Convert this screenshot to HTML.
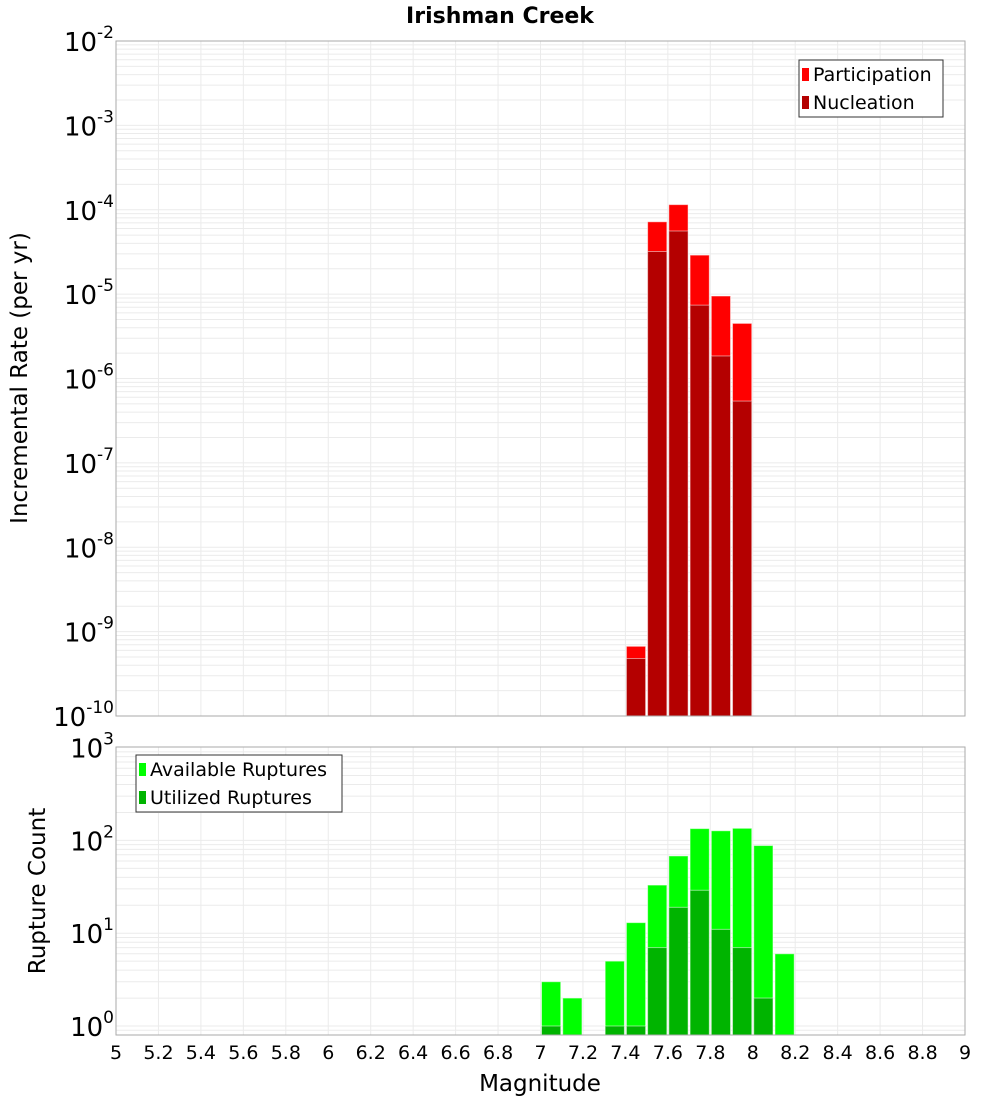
<!DOCTYPE html>
<html><head><meta charset="utf-8">
<style>
body{margin:0;background:#fff;}
svg{display:block;font-family:"Liberation Sans","DejaVu Sans",sans-serif;}
</style></head>
<body>
<svg id="c" width="1000" height="1100" xmlns="http://www.w3.org/2000/svg">
<text x="500" y="23" text-anchor="middle" font-size="22" font-weight="bold" font-family="DejaVu Sans, sans-serif">Irishman Creek</text>
<g id="topPanel"></g>
<g id="botPanel"></g>
<text x="540" y="1091" text-anchor="middle" font-size="23" font-family="DejaVu Sans, sans-serif">Magnitude</text>
<text transform="translate(27,378) rotate(-90)" text-anchor="middle" font-size="23" font-family="DejaVu Sans, sans-serif">Incremental Rate (per yr)</text>
<text transform="translate(45,891) rotate(-90)" text-anchor="middle" font-size="23" font-family="DejaVu Sans, sans-serif">Rupture Count</text>
</svg>
<script>
const magBins = [7.4,7.5,7.6,7.7,7.8,7.9];
const participation = [6.7e-10,7.2e-5,1.15e-4,2.9e-5,9.5e-6,4.5e-6];
const nucleation = [4.8e-10,3.2e-5,5.6e-5,7.4e-6,1.85e-6,5.4e-7];
const countBins = [7.0,7.1,7.3,7.4,7.5,7.6,7.7,7.8,7.9,8.0,8.1];
const available = [3,2,5,13,33,68,134,127,135,88,6];
const utilized = [1,0,1,1,7,19,29,11,7,2,0];
const xTicks = [5,5.2,5.4,5.6,5.8,6,6.2,6.4,6.6,6.8,7,7.2,7.4,7.6,7.8,8,8.2,8.4,8.6,8.8,9];
const topDecades = [-10,-9,-8,-7,-6,-5,-4,-3,-2];
const botDecades = [0,1,2,3];

const NS="http://www.w3.org/2000/svg";
const X0=116,X1=965;
function xs(m){return X0+(m-5)/4*(X1-X0);}
function mk(parent,tag,attrs){const e=document.createElementNS(NS,tag);for(const k in attrs)e.setAttribute(k,attrs[k]);parent.appendChild(e);return e;}
function topY(v){return 41+(-2-Math.log10(v))*(675/8);}
const BY1=1026,BDEC=92.8;
function botY(v){return BY1-Math.log10(v)*BDEC;}

function panel(g,yTop,yBot,yf,decs,lo,hi){
  mk(g,'rect',{x:X0,y:yTop,width:X1-X0,height:yBot-yTop,fill:'#fff'});
  for(let d=lo;d<hi;d++){for(let k=1;k<=9;k++){const y=yf(k*Math.pow(10,d));if(y<yTop||y>yBot)continue;
    const l=mk(g,'line',{x1:X0,x2:X1,y1:y,y2:y,stroke:'#ebebeb','stroke-width':1});
    
    }}
  xTicks.forEach(t=>{const x=xs(t);
    const l=mk(g,'line',{x1:x,x2:x,y1:yTop,y2:yBot,stroke:'#ebebeb','stroke-width':1});
    
    });
  decs.forEach(d=>{const y=yf(Math.pow(10,d));
    const t=mk(g,'text',{x:114,y:y+10,'text-anchor':'end','font-size':26,'font-family':'DejaVu Sans, sans-serif'});
    
    
    t.innerHTML='10<tspan dy="-13" font-size="17">'+d+'</tspan>';});
}
function bars(g,bins,vals,yf,yBot,fill,name){
  bins.forEach((b,i)=>{if(!(vals[i]>0))return;const y=yf(vals[i]);
    const r=mk(g,'rect',{x:xs(b)+1,y:y,width:xs(b+0.1)-xs(b)-2,height:yBot-y,fill:fill,stroke:'#ffffff','stroke-opacity':0.5,'stroke-width':1});
    
    });
}
function frame(g,yTop,yBot){mk(g,'rect',{x:X0,y:yTop,width:X1-X0,height:yBot-yTop,fill:'none',stroke:'#aaaaaa','stroke-width':1});}
function legend(g,x,y,w,items){
  const b=mk(g,'rect',{x:x,y:y,width:w,height:57,fill:'#fff',stroke:'#333','stroke-width':1});
  
  
  items.forEach((it,i)=>{const yy=y+14+i*28;
    mk(g,'rect',{x:x+3,y:yy-6,width:7,height:13,fill:it[1]});
    const t=mk(g,'text',{x:x+14,y:yy+7,'font-size':19,'font-family':'DejaVu Sans, sans-serif'});
    t.textContent=it[0];
    
    });
}
const topG=document.getElementById('topPanel'),botG=document.getElementById('botPanel');
panel(topG,41,716,topY,topDecades,-10,-2);
bars(topG,magBins,participation,topY,716,'#ff0000','participation-bar');
bars(topG,magBins,nucleation,topY,716,'#b40000','nucleation-bar');
frame(topG,41,716);
legend(topG,799,60,144,[['Participation','#ff0000'],['Nucleation','#b40000']]);

panel(botG,747,1035,botY,botDecades,-1,3);
bars(botG,countBins,available,botY,1035,'#00ff00','available-bar');
bars(botG,countBins,utilized,botY,1035,'#00b400','utilized-bar');
frame(botG,747,1035);
legend(botG,136,755,206,[['Available Ruptures','#00ff00'],['Utilized Ruptures','#00b400']]);

const svgEl=document.getElementById('c');
xTicks.forEach(t=>{const tx=mk(svgEl,'text',{x:xs(t),y:1059,'text-anchor':'middle','font-size':19,'font-family':'DejaVu Sans, sans-serif'});
  tx.textContent=String(t);
  
  });
</script>
</body></html>
